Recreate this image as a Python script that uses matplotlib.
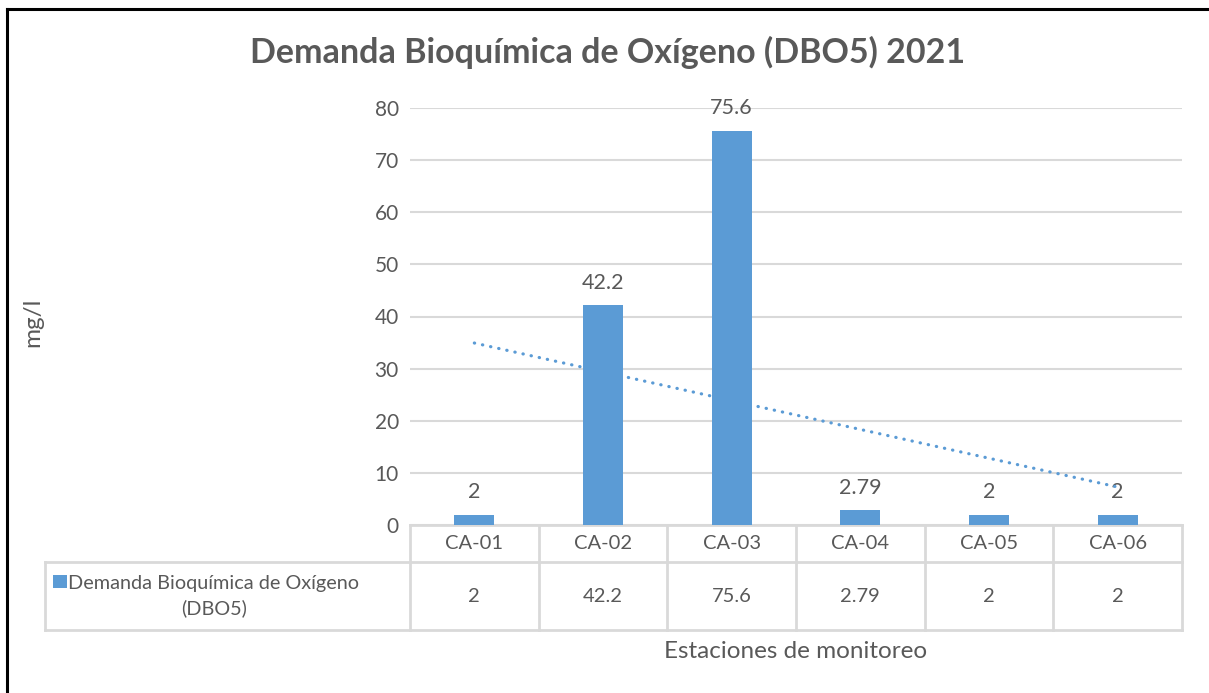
import numpy as np
import matplotlib.pyplot as plt
from matplotlib.lines import Line2D
from matplotlib.patches import Rectangle

# Data
estaciones = ['CA-01', 'CA-02', 'CA-03', 'CA-04', 'CA-05', 'CA-06']
dbo5 = [2, 42.2, 75.6, 2.79, 2, 2]
etiquetas = ['2', '42.2', '75.6', '2.79', '2', '2']
serie = 'Demanda Bioquímica de Oxígeno\n(DBO5)'

azul = '#5B9BD5'
gris = '#595959'
linea = '#D9D9D9'

plt.rcParams['font.family'] = ['Lato', 'DejaVu Sans']

fig = plt.figure(figsize=(12.09, 6.93), dpi=100)
W, H = 1209, 693

# chart frame (only top and left edges visible)
fig.add_artist(Line2D([7 / W, 7 / W], [0, 1 - 9 / H], color='black', lw=2.2))
fig.add_artist(Line2D([7 / W, 1], [1 - 9 / H, 1 - 9 / H], color='black', lw=2.2))

ax = fig.add_axes([410 / W, 1 - 525 / H, 772 / W, 417 / H])
x = np.arange(len(estaciones))
ax.bar(x, dbo5, width=0.31, color=azul, zorder=3)

# linear trendline
p = np.polyfit(x, dbo5, 1)
ax.plot(x, np.polyval(p, x), color=azul, lw=2.3, linestyle=(0, (0.1, 2.5)),
        dash_capstyle='round', zorder=4)

for xi, v, t in zip(x, dbo5, etiquetas):
    ax.annotate(t, (xi, v), xytext=(0, 9), textcoords='offset points',
                ha='center', va='bottom', fontsize=15.5, color=gris)

ax.set_xlim(-0.5, len(estaciones) - 0.5)
ax.set_ylim(0, 80)
ax.set_yticks(range(0, 81, 10))
ax.set_xticks([])
ax.tick_params(axis='y', length=0, labelsize=15, labelcolor=gris, pad=8)
ax.grid(axis='y', color=linea, lw=1.5, zorder=0)
for s in ax.spines.values():
    s.set_visible(False)

# data table below the axis
ph = 417.0
def ya(py):
    return (525 - py) / ph

n = len(estaciones)
left = (45 - 410) / 772
kw = dict(color=linea, lw=2, transform=ax.transAxes, clip_on=False)
y0, y1, y2 = ya(525), ya(562), ya(630)
ax.plot([0, 1], [y0, y0], **kw)
ax.plot([left, 1], [y1, y1], **kw)
ax.plot([left, 1], [y2, y2], **kw)
ax.plot([left, left], [y1, y2], **kw)
for i in range(n + 1):
    ax.plot([i / n, i / n], [y0, y2], **kw)
for i in range(n):
    xc = (i + 0.5) / n
    ax.text(xc, (y0 + y1) / 2, estaciones[i], transform=ax.transAxes,
            ha='center', va='center', fontsize=14.5, color=gris)
    ax.text(xc, (y1 + y2) / 2, etiquetas[i], transform=ax.transAxes,
            ha='center', va='center', fontsize=14.5, color=gris)

# legend key inside the table
fig.add_artist(Rectangle((53 / W, 1 - 588 / H), 14 / W, 13 / H,
                         facecolor=azul, edgecolor='none'))
fig.text(214 / W, 1 - 596 / H, serie, ha='center', va='center',
         fontsize=14.3, color=gris, linespacing=1.45)

fig.text(608 / W, 1 - 52 / H, 'Demanda Bioquímica de Oxígeno (DBO5) 2021',
         ha='center', va='center', fontsize=24.5, fontweight='bold', color=gris)
fig.text(796 / W, 1 - 652 / H, 'Estaciones de monitoreo', ha='center',
         va='center', fontsize=17.5, color=gris)
fig.text(33 / W, 1 - 322 / H, 'mg/l', ha='center', va='center',
         rotation=90, fontsize=17.5, color=gris)

fig.savefig('out.png', dpi=100)
